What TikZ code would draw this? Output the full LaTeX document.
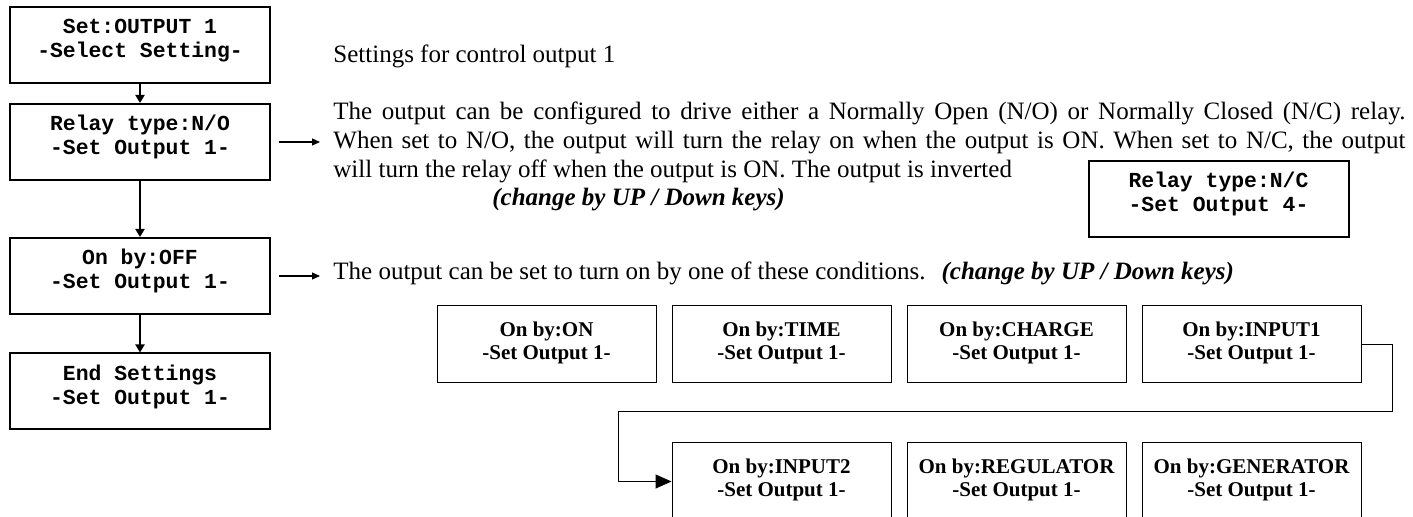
\documentclass[tikz,border=0pt]{standalone}
\usepackage{fontspec}
\setmainfont{Liberation Serif}
\setmonofont{Liberation Mono}
\usetikzlibrary{arrows.meta,positioning}

\newcommand{\lcdlines}[2]{\parbox[c][38pt][t]{130pt}{\centering\rule{0pt}{13.5pt}#1\\#2}}
\newcommand{\choicelines}[2]{\parbox[c][38.5pt][t]{109.5pt}{\centering\rule{0pt}{15.5pt}#1\\#2}}

\tikzset{
  lcd/.style={draw, line width=1pt, inner sep=0pt, font=\fontsize{10.7}{12}\selectfont\ttfamily\bfseries},
  choice/.style={draw, line width=0.5pt, inner sep=0pt, font=\fontsize{10.5}{11.5}\selectfont\bfseries},
  note/.style={inner sep=0pt, anchor=base west, font=\fontsize{12.5}{14.5}\selectfont},
  menuarrow/.style={line width=1pt, -{Triangle[length=4pt,width=4.5pt]}},
  notearrow/.style={line width=0.6pt, -{Triangle[length=4pt,width=3.5pt]}, shorten <=4pt, shorten >=6.5pt},
}

\begin{document}
\begin{tikzpicture}[x=0.5pt,y=-0.5pt]
    \useasboundingbox (0,0) rectangle (1413,517);

    % draw menu boxes
    \node[lcd] (setout) at (140,45) {\lcdlines{Set:OUTPUT 1}{-Select Setting-}};
    \node[lcd] (relay) at (140,142) {\lcdlines{Relay type:N/O}{-Set Output 1-}};
    \node[lcd] (onby) at (140,276) {\lcdlines{On by:OFF}{-Set Output 1-}};
    \node[lcd] (endset) at (140,391.5) {\lcdlines{End Settings}{-Set Output 1-}};
    \node[lcd] (relaync) at (1218.5,199) {\lcdlines{Relay type:N/C}{-Set Output 4-}};

    % draw arrows down the menu
    \draw[menuarrow] (setout) -- (relay);
    \draw[menuarrow] (relay) -- (onby);
    \draw[menuarrow] (onby) -- (endset);

    % draw notes
    \node[note] (title) at (333,63) {Settings for control output 1};
    \node[note, text width=536pt, align=justify] (relaytext) at (333,120) {The output can be configured to drive either a Normally Open (N/O) or Normally Closed (N/C) relay.\linebreak
      When set to N/O, the output will turn the relay on when the output is ON. When set to N/C, the output\linebreak
      will turn the relay off when the output is ON. The output is inverted};
    \node[note, font=\fontsize{12.5}{14.5}\selectfont\bfseries\itshape] (relaykeys) at (492,206) {(change by UP / Down keys)};
    \node[note] (ontext) at (333,280) {The output can be set to turn on by one of these conditions.\hspace{8pt}\textbf{\textit{(change by UP / Down keys)}}};

    \draw[notearrow] (relay.east) -- (relay.east -| relaytext.west);
    \draw[notearrow] (onby.east) -- (onby.east -| ontext.west);

    % draw the conditions
    \node[choice] (onon) at (546.5,344.5) {\choicelines{On by:ON}{-Set Output 1-}};
    \node[choice, right=7.5pt of onon] (ontime) {\choicelines{On by:TIME}{-Set Output 1-}};
    \node[choice, right=7.5pt of ontime] (oncharge) {\choicelines{On by:CHARGE}{-Set Output 1-}};
    \node[choice, right=7.5pt of oncharge] (oninputa) {\choicelines{On by:INPUT1}{-Set Output 1-}};
    \node[choice, below=29.5pt of ontime] (oninputb) {\choicelines{On by:INPUT2}{-Set Output 1-}};
    \node[choice, right=7.5pt of oninputb] (onreg) {\choicelines{On by:REGULATOR}{-Set Output 1-}};
    \node[choice, right=7.5pt of onreg] (ongen) {\choicelines{On by:GENERATOR}{-Set Output 1-}};

    % wrap round to the second row
    \coordinate (bend) at (618,411.5);
    \draw[line width=0.5pt, -{Triangle[length=8pt,width=7pt]}] (oninputa.east) -- ++(31,0) |- (bend) |- (oninputb.west);
\end{tikzpicture}
\end{document}
